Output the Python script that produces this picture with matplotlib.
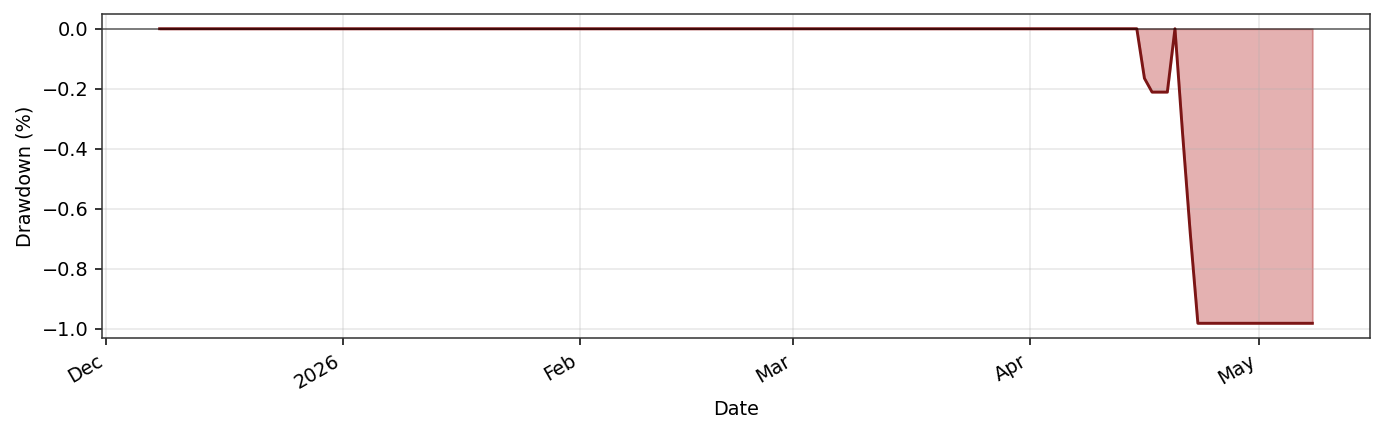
import numpy as np
import pandas as pd
import matplotlib
matplotlib.use('Agg')
import matplotlib.pyplot as plt
import matplotlib.dates as mdates

# daily drawdown series (percent), flat at zero until mid April
start_date = '2025-12-08'
end_date = '2026-05-08'
event_dates = ['2026-04-15', '2026-04-16', '2026-04-17', '2026-04-18', '2026-04-19',
               '2026-04-20', '2026-04-21', '2026-04-22', '2026-04-23']
event_values = [0.0, -0.165, -0.211, -0.211, -0.211, 0.0, -0.35, -0.68, -0.981]
tail_value = -0.981

DPI = 138.5


def build_series():
    dates = pd.date_range(start_date, end_date, freq='D')
    dd = pd.Series(0.0, index=dates)
    for d, v in zip(event_dates, event_values):
        dd[pd.Timestamp(d)] = v
    dd[dd.index > pd.Timestamp(event_dates[-1])] = tail_value
    return dd


def plot_drawdown(dd):
    fig = plt.figure(figsize=(1385 / DPI, 434 / DPI), dpi=DPI)
    ax = fig.add_axes([102 / 1385, 1 - 338 / 434, 1268 / 1385, 324 / 434])

    ax.fill_between(dd.index, dd.values, 0, color='firebrick', alpha=0.35)
    ax.plot(dd.index, dd.values, color='#7b1515', linewidth=1.5)
    ax.axhline(0, color='black', linewidth=0.8, alpha=0.6)

    ax.set_xlabel('Date')
    ax.set_ylabel('Drawdown (%)')
    ax.grid(True, alpha=0.3)
    for s in ax.spines.values():
        s.set_color('#333333')

    ax.xaxis.set_major_locator(mdates.AutoDateLocator())
    ax.xaxis.set_major_formatter(mdates.ConciseDateFormatter(ax.xaxis.get_major_locator()))
    for lbl in ax.get_xticklabels():
        lbl.set_rotation(30)
        lbl.set_ha('right')

    fig.savefig('out.png', dpi=DPI)


def main():
    dd = build_series()
    plot_drawdown(dd)


if __name__ == '__main__':
    main()
